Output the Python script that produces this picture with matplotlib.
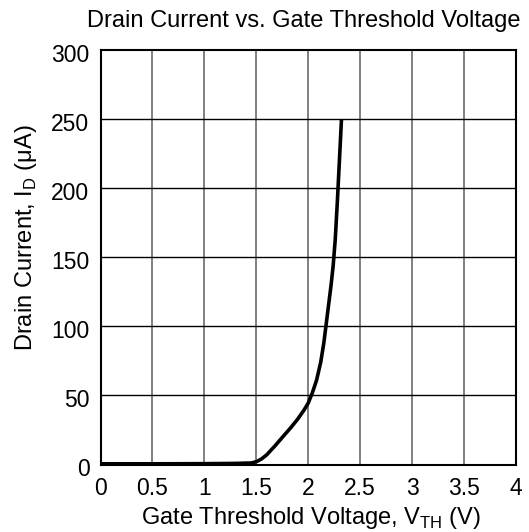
"""Drain current vs. gate threshold voltage chart."""

import matplotlib
matplotlib.use("Agg")
import matplotlib.pyplot as plt
import matplotlib.transforms as mtransforms

plt.rcParams["font.family"] = ["Liberation Sans", "DejaVu Sans"]
plt.rcParams["mathtext.fontset"] = "custom"
plt.rcParams["mathtext.rm"] = "Liberation Sans"

# gate threshold voltage (V) and drain current (uA)
v_th = [0.0, 0.5, 1.0, 1.3, 1.45, 1.5, 1.55, 1.6, 1.68, 1.76, 1.83, 1.9,
        1.96, 2.0, 2.04, 2.08, 2.12, 2.15, 2.17, 2.2, 2.22, 2.24, 2.26,
        2.28, 2.3, 2.32]
i_d = [0.5, 0.5, 0.6, 0.8, 1.1, 2, 4, 7, 13.5, 20.5, 26.5, 33,
       39.5, 44.5, 52, 61, 74, 88, 100, 118, 130, 144, 163,
       190, 220, 250]

x_ticks = [0, 0.5, 1, 1.5, 2, 2.5, 3, 3.5, 4]
x_tick_labels = ["0", "0.5", "1", "1.5", "2", "2.5", "3", "3.5", "4"]
y_ticks = [0, 50, 100, 150, 200, 250, 300]

W, H = 529, 532
fig = plt.figure(figsize=(W / 100, H / 100), dpi=100)
ax = fig.add_axes([100.5 / W, 1 - 464.5 / H, 415.5 / W, 414.5 / H])

for x in x_ticks[1:-1]:
    ax.axvline(x, color="#808080", lw=1.4, zorder=1)
for y in y_ticks[1:-1]:
    ax.axhline(y, color="black", lw=1.0, zorder=1)

ax.plot(v_th, i_d, color="black", lw=2.6, zorder=3,
        solid_capstyle="butt", solid_joinstyle="round")

ax.set_xlim(0, 4)
ax.set_ylim(0, 300)
ax.set_xticks(x_ticks)
ax.set_xticklabels(x_tick_labels)
ax.set_yticks(y_ticks)
for s in ax.spines.values():
    s.set_linewidth(1.5)
ax.tick_params(length=0, labelsize=16.5)
ax.tick_params(axis="x", pad=9)
ax.tick_params(axis="y", pad=8)

# y tick labels sit slightly below their gridlines in the reference
off = mtransforms.ScaledTranslation(0, -3 / 100, fig.dpi_scale_trans)
for lbl in ax.get_yticklabels():
    lbl.set_transform(lbl.get_transform() + off)

fig.text(311 / W, 1 - 524 / H, r"Gate Threshold Voltage, V$_{\mathrm{TH}}$ (V)",
         fontsize=17, ha="center", va="baseline")
fig.text(26 / W, 1 - 238 / H, r"Drain Current, I$_{\mathrm{D}}$ ($\mathrm{\mu}$A)",
         fontsize=17, ha="center", va="center", rotation=90)
fig.text(304 / W, 1 - 27 / H, "Drain Current vs. Gate Threshold Voltage",
         fontsize=17, ha="center", va="baseline")

fig.savefig("out.png", dpi=100)
plt.close(fig)
